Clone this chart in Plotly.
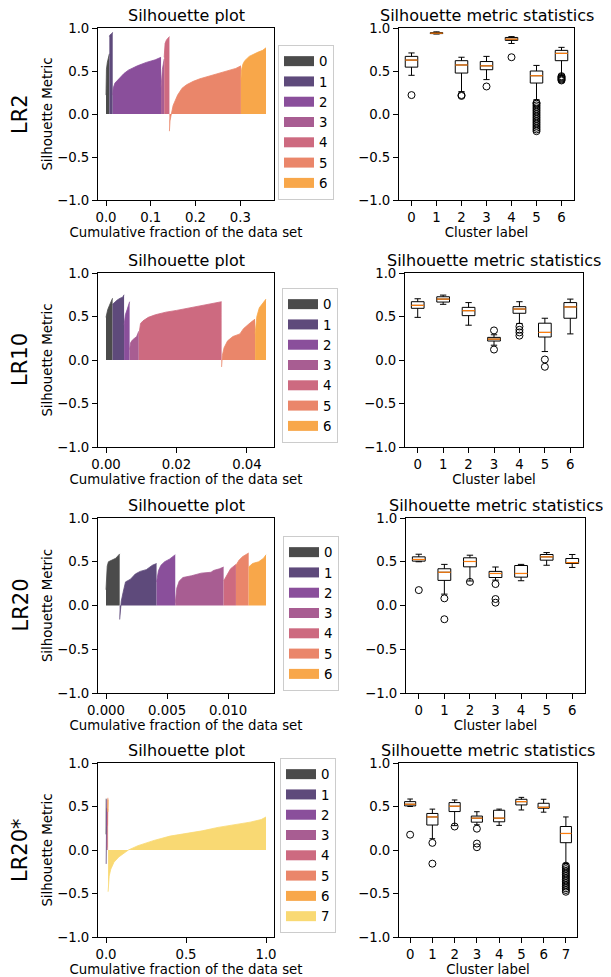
import plotly.graph_objects as go

# The page body adds an 8px margin around the figure, so the figure is sized and
# positioned to compensate.
PAGE_W, PAGE_H = 611, 977
OFF = 8
W, H = PAGE_W - OFF, PAGE_H - OFF
FONT = "DejaVu Sans"
COLORS = ["#4b4b4b", "#5e4a7b", "#8a4f9b", "#a85d92", "#cd6a80", "#ea866a", "#f8a74a", "#f9d973"]
MEDIAN_COLOR = "#ff7f0e"

row_labels = ["LR2", "LR10", "LR20", "LR20*"]

# ---------------- Silhouette curves (x = cumulative fraction, y = silhouette) ----------------
# LR2
lr2_x = [
    [0.0, 0.0005, 0.001, 0.003, 0.005, 0.0075],
    [0.0075, 0.009, 0.012, 0.015],
    [0.015, 0.016, 0.02, 0.03, 0.04, 0.05, 0.07, 0.09, 0.11, 0.123],
    [0.123, 0.124, 0.126, 0.128, 0.130],
    [0.130, 0.132, 0.135, 0.138, 0.1417],
    [0.1417, 0.143, 0.146, 0.15, 0.16, 0.17, 0.18, 0.195, 0.21, 0.23, 0.25, 0.27, 0.29, 0.3015],
    [0.3015, 0.303, 0.306, 0.31, 0.32, 0.33, 0.34, 0.35, 0.3575],
]
lr2_y = [
    [0.22, 0.45, 0.52, 0.60, 0.65, 0.70],
    [0.90, 0.92, 0.93, 0.95],
    [0.22, 0.30, 0.36, 0.42, 0.47, 0.51, 0.56, 0.60, 0.63, 0.66],
    [0.31, 0.47, 0.52, 0.58, 0.64],
    [0.66, 0.82, 0.86, 0.88, 0.90],
    [-0.20, -0.08, 0.0, 0.10, 0.22, 0.30, 0.34, 0.38, 0.41, 0.44, 0.47, 0.50, 0.53, 0.56],
    [0.40, 0.52, 0.58, 0.62, 0.67, 0.70, 0.72, 0.74, 0.77],
]
# LR10
lr10_x = [
    [0.0, 0.0002, 0.0005, 0.001, 0.0015, 0.00186],
    [0.00186, 0.0025, 0.0032, 0.004, 0.0047, 0.00513],
    [0.00513, 0.0055, 0.006, 0.0067],
    [0.0067, 0.007, 0.0075, 0.008, 0.0087, 0.0093],
    [0.0093, 0.0095, 0.0098, 0.0105, 0.012, 0.014, 0.017, 0.02, 0.024, 0.028, 0.0328],
    [0.0328, 0.0330, 0.0335, 0.0345, 0.036, 0.038, 0.039, 0.040, 0.041, 0.0423],
    [0.0423, 0.0428, 0.0435, 0.0445, 0.0454],
]
lr10_y = [
    [0.49, 0.55, 0.58, 0.63, 0.68, 0.71],
    [0.64, 0.67, 0.69, 0.71, 0.72, 0.75],
    [0.40, 0.52, 0.58, 0.67],
    [0.12, 0.20, 0.23, 0.25, 0.27, 0.33],
    [0.28, 0.35, 0.42, 0.45, 0.49, 0.52, 0.55, 0.57, 0.60, 0.63, 0.67],
    [-0.08, 0.05, 0.14, 0.22, 0.27, 0.30, 0.36, 0.40, 0.43, 0.47],
    [0.30, 0.50, 0.60, 0.66, 0.70],
]
# LR20
lr20_x = [
    [0.0, 0.0001, 0.0002, 0.0005, 0.0008, 0.00112],
    [0.00112, 0.00125, 0.0014, 0.0016, 0.0020, 0.0024, 0.0028, 0.0033, 0.0038, 0.00414],
    [0.00414, 0.0043, 0.0045, 0.0048, 0.0052, 0.00567],
    [0.00567, 0.0058, 0.0060, 0.0063, 0.0070, 0.0078, 0.0086, 0.0088, 0.0093, 0.00963],
    [0.00963, 0.0099, 0.0102, 0.01064],
    [0.01064, 0.0109, 0.0112, 0.01168],
    [0.01168, 0.0120, 0.0125, 0.0129, 0.0131],
]
lr20_y = [
    [0.18, 0.45, 0.50, 0.52, 0.54, 0.59],
    [-0.16, 0.05, 0.15, 0.27, 0.30, 0.36, 0.39, 0.41, 0.46, 0.48],
    [0.27, 0.40, 0.46, 0.50, 0.53, 0.58],
    [0.03, 0.20, 0.28, 0.32, 0.34, 0.37, 0.38, 0.40, 0.42, 0.44],
    [0.28, 0.35, 0.42, 0.47],
    [0.46, 0.52, 0.56, 0.60],
    [0.44, 0.48, 0.50, 0.54, 0.58],
]
# LR20* : clusters 0-6 as LR20 plus noise cluster 7
c7_x = [0.0131, 0.015, 0.02, 0.03, 0.05, 0.08, 0.11, 0.14, 0.2, 0.3, 0.4, 0.5, 0.6, 0.7, 0.8, 0.9, 0.97, 1.0]
c7_y = [-0.48, -0.40, -0.30, -0.22, -0.14, -0.08, -0.04, 0.0, 0.05, 0.11, 0.16, 0.19, 0.22, 0.26, 0.29, 0.32, 0.35, 0.38]
lr20s_x = lr20_x + [c7_x]
lr20s_y = lr20_y + [c7_y]

sil_x = [lr2_x, lr10_x, lr20_x, lr20s_x]
sil_y = [lr2_y, lr10_y, lr20_y, lr20s_y]

# ---------------- Box statistics ----------------
lr2_q1 = [0.545, 0.935, 0.476, 0.515, 0.856, 0.36, 0.62]
lr2_med = [0.627, 0.94, 0.57, 0.56, 0.87, 0.445, 0.705]
lr2_q3 = [0.67, 0.945, 0.62, 0.61, 0.89, 0.50, 0.74]
lr2_lo = [0.45, 0.93, 0.26, 0.40, 0.82, 0.165, 0.445]
lr2_hi = [0.71, 0.955, 0.66, 0.67, 0.90, 0.565, 0.775]
lr2_out = [[0.22], [], [0.22, 0.21], [0.32], [0.66],
           [0.13, 0.12, 0.10, 0.08, 0.06, 0.04, 0.02, 0.0, -0.02, -0.04, -0.06, -0.08,
            -0.10, -0.12, -0.14, -0.16, -0.18, -0.20],
           [0.44, 0.43, 0.42, 0.41, 0.40, 0.39]]

lr10_q1 = [0.594, 0.666, 0.51, 0.218, 0.537, 0.264, 0.48]
lr10_med = [0.628, 0.70, 0.567, 0.24, 0.586, 0.317, 0.61]
lr10_q3 = [0.67, 0.727, 0.605, 0.26, 0.613, 0.423, 0.66]
lr10_lo = [0.49, 0.64, 0.40, 0.17, 0.42, 0.097, 0.30]
lr10_hi = [0.704, 0.746, 0.66, 0.29, 0.67, 0.48, 0.70]
lr10_out = [[], [], [], [0.34, 0.12], [0.385, 0.347, 0.317, 0.28], [0.006, -0.078], []]

lr20_q1 = [0.507, 0.287, 0.442, 0.32, 0.324, 0.518, 0.48]
lr20_med = [0.526, 0.38, 0.503, 0.366, 0.366, 0.556, 0.49]
lr20_q3 = [0.556, 0.42, 0.545, 0.39, 0.457, 0.583, 0.537]
lr20_lo = [0.50, 0.13, 0.28, 0.29, 0.283, 0.46, 0.435]
lr20_hi = [0.586, 0.47, 0.575, 0.44, 0.47, 0.605, 0.583]
lr20_out = [[0.176], [0.082, -0.157], [0.27], [0.245, 0.074, 0.032], [], [], []]

lr20s_q1 = lr20_q1 + [0.084]
lr20s_med = lr20_med + [0.19]
lr20s_q3 = lr20_q3 + [0.27]
lr20s_lo = lr20_lo + [-0.155]
lr20s_hi = lr20_hi + [0.38]
lr20s_out = lr20_out + [[-0.18, -0.20, -0.22, -0.24, -0.26, -0.28, -0.30, -0.32, -0.34, -0.36,
                         -0.38, -0.40, -0.42, -0.44, -0.46, -0.48]]

box_q1 = [lr2_q1, lr10_q1, lr20_q1, lr20s_q1]
box_med = [lr2_med, lr10_med, lr20_med, lr20s_med]
box_q3 = [lr2_q3, lr10_q3, lr20_q3, lr20s_q3]
box_lo = [lr2_lo, lr10_lo, lr20_lo, lr20s_lo]
box_hi = [lr2_hi, lr10_hi, lr20_hi, lr20s_hi]
box_out = [lr2_out, lr10_out, lr20_out, lr20s_out]

# x tick settings for the silhouette plots
sil_xticks = [[0.0, 0.1, 0.2, 0.3], [0.0, 0.02, 0.04], [0.0, 0.005, 0.010], [0.0, 0.5, 1.0]]
sil_xfmt = [".1f", ".2f", ".3f", ".1f"]

# ---------------- Layout geometry (page pixels) ----------------
left_px = (98, 274)
right_px = [(399, 574), (405, 583), (406, 585), (399, 577)]
rows_px = [(28, 200), (273, 447), (518, 693), (763, 937)]
legend_px = [(278, 45), (282, 288), (283, 536), (280, 758)]
BOX_W = 0.5


def fx(p):
    return (p - OFF) / W


def fy(p):
    return 1 - (p - OFF) / H


fig = go.Figure()
layout = dict(
    width=W, height=H, autosize=False,
    margin=dict(l=0, r=0, t=0, b=0, pad=0, autoexpand=False),
    paper_bgcolor="white", plot_bgcolor="white",
    font=dict(family=FONT, size=13.3, color="black"),
    showlegend=True,
)
annotations = []

axis_common = dict(showline=True, mirror=True, linecolor="black", linewidth=1,
                   ticks="outside", ticklen=5, tickwidth=1, tickcolor="black",
                   showgrid=False, zeroline=False, automargin=False,
                   tickfont=dict(family=FONT, size=13.3, color="black"))

for r in range(4):
    nl = 2 * r + 1
    nr = 2 * r + 2
    lg = "legend" if r == 0 else f"legend{r + 1}"
    xs_all = sil_x[r]
    ys_all = sil_y[r]
    ncl = len(xs_all)
    # silhouette fills
    for i in range(ncl):
        fig.add_trace(go.Scatter(
            x=xs_all[i], y=ys_all[i], mode="lines", fill="tozeroy",
            fillcolor=COLORS[i], line=dict(color=COLORS[i], width=0.8),
            name=str(i), showlegend=False, hoverinfo="skip",
            xaxis=f"x{nl}", yaxis=f"y{nl}"))
    # legend-only swatches (no data)
    for i in range(ncl):
        fig.add_trace(go.Scatter(
            x=[None], y=[None], mode="lines",
            line=dict(color=COLORS[i], width=10),
            name=str(i), legend=lg, showlegend=True, hoverinfo="skip",
            xaxis=f"x{nl}", yaxis=f"y{nl}"))
    # box plot
    pos = list(range(ncl))
    fig.add_trace(go.Box(
        x=pos, q1=box_q1[r], median=box_med[r], q3=box_q3[r],
        lowerfence=box_lo[r], upperfence=box_hi[r],
        width=BOX_W, whiskerwidth=0.5, fillcolor="white",
        line=dict(color="black", width=1), boxpoints=False,
        showlegend=False, hoverinfo="skip",
        xaxis=f"x{nr}", yaxis=f"y{nr}"))
    mx, my = [], []
    for i in pos:
        mx += [i - BOX_W / 2, i + BOX_W / 2, None]
        my += [box_med[r][i], box_med[r][i], None]
    fig.add_trace(go.Scatter(x=mx, y=my, mode="lines",
                             line=dict(color=MEDIAN_COLOR, width=1.2),
                             showlegend=False, hoverinfo="skip",
                             xaxis=f"x{nr}", yaxis=f"y{nr}"))
    ox, oy = [], []
    for i in pos:
        for v in box_out[r][i]:
            ox.append(i)
            oy.append(v)
    fig.add_trace(go.Scatter(x=ox, y=oy, mode="markers",
                             marker=dict(symbol="circle-open", size=7, color="black",
                                         line=dict(width=1, color="black")),
                             showlegend=False, hoverinfo="skip",
                             xaxis=f"x{nr}", yaxis=f"y{nr}"))

    top, bot = rows_px[r]
    ydom = [fy(bot), fy(top)]
    # left axes
    xmax = max(max(v) for v in xs_all)
    pad = 0.05 * xmax
    layout[f"xaxis{nl}"] = dict(axis_common, domain=[fx(left_px[0]), fx(left_px[1])],
                                anchor=f"y{nl}", range=[-pad, xmax + pad],
                                tickvals=sil_xticks[r], tickformat=sil_xfmt[r],
                                title=dict(text="Cumulative fraction of the data set",
                                           font=dict(size=13.3), standoff=3))
    layout[f"yaxis{nl}"] = dict(axis_common, domain=ydom, anchor=f"x{nl}",
                                range=[-1, 1], tickvals=[-1, -0.5, 0, 0.5, 1],
                                tickformat=".1f",
                                title=dict(text="Silhouette Metric", font=dict(size=13.3),
                                           standoff=1))
    # right axes
    rl, rr = right_px[r]
    layout[f"xaxis{nr}"] = dict(axis_common, domain=[fx(rl), fx(rr)], anchor=f"y{nr}",
                                range=[-0.5, ncl - 0.5], tickvals=pos,
                                ticktext=[str(p) for p in pos],
                                title=dict(text="Cluster label", font=dict(size=13.3),
                                           standoff=3))
    layout[f"yaxis{nr}"] = dict(axis_common, domain=ydom, anchor=f"x{nr}",
                                range=[-1, 1], tickvals=[-1, -0.5, 0, 0.5, 1],
                                tickformat=".1f")
    # legend
    lx, ly = legend_px[r]
    layout[lg] = dict(x=fx(lx), y=fy(ly), xanchor="left", yanchor="top",
                      bordercolor="#cccccc", borderwidth=1, bgcolor="white",
                      font=dict(family=FONT, size=13.3, color="black"),
                      itemwidth=30, tracegroupgap=0)
    # titles
    annotations.append(dict(text="Silhouette plot", x=fx((left_px[0] + left_px[1]) / 2),
                            y=fy(top), xref="paper", yref="paper", xanchor="center",
                            yanchor="bottom", yshift=1, showarrow=False,
                            font=dict(family=FONT, size=16, color="black")))
    annotations.append(dict(text="Silhouette metric statistics", x=fx((rl + rr) / 2),
                            y=fy(top), xref="paper", yref="paper", xanchor="center",
                            yanchor="bottom", yshift=1, showarrow=False,
                            font=dict(family=FONT, size=16, color="black")))
    annotations.append(dict(text=row_labels[r], x=fx(20), y=fy((top + bot) / 2),
                            xref="paper", yref="paper", xanchor="center", yanchor="middle",
                            textangle=-90, showarrow=False,
                            font=dict(family=FONT, size=21, color="black")))

layout["annotations"] = annotations
fig.update_layout(**layout)
fig.write_html("out.html")
